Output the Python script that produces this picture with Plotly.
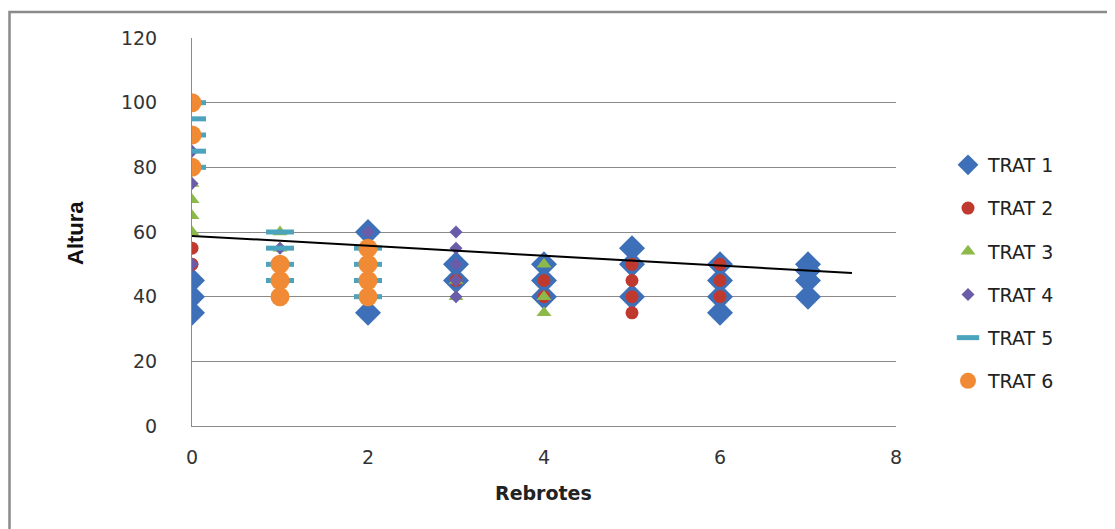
import plotly.graph_objects as go

# ---- data ----
t1_x = [0, 0, 0, 2, 2, 3, 3, 4, 4, 4, 5, 5, 5, 6, 6, 6, 6, 7, 7, 7, 7]
t1_y = [35, 40, 45, 60, 35, 50, 45, 50, 45, 40, 55, 50, 40, 50, 45, 40, 35, 50, 48, 45, 40]

t2_x = [0, 0, 3, 4, 4, 5, 5, 5, 5, 6, 6, 6]
t2_y = [55, 50, 45, 45, 40, 50, 45, 40, 35, 50, 45, 40]

t3_x = [0, 0, 0, 0, 1, 1, 3, 3, 4, 4, 4]
t3_y = [60, 65, 70, 75, 60, 55, 45, 40, 50, 40, 35]

t4_x = [0, 0, 0, 1, 1, 2, 3, 3, 3, 3, 3]
t4_y = [75, 85, 50, 55, 45, 60, 60, 55, 50, 45, 40]

t5_x = [0, 0, 0, 0, 0, 1, 1, 1, 1, 2, 2, 2, 2]
t5_y = [80, 85, 90, 95, 100, 60, 55, 50, 45, 55, 50, 45, 40]

t6_x = [0, 0, 0, 1, 1, 1, 2, 2, 2, 2]
t6_y = [80, 90, 100, 50, 45, 40, 55, 50, 45, 40]

trend_x = [0, 7.5]
trend_y = [58.8, 47.3]

names = ["TRAT 1", "TRAT 2", "TRAT 3", "TRAT 4", "TRAT 5", "TRAT 6"]

fig = go.Figure()

fig.add_trace(go.Scatter(x=t1_x, y=t1_y, mode="markers", name=names[0], legendgroup="g1",
                         marker=dict(symbol="diamond", size=20, color="#3D70B8")))
fig.add_trace(go.Scatter(x=t2_x, y=t2_y, mode="markers", name=names[1], legendgroup="g2",
                         marker=dict(symbol="circle", size=13, color="#C0392F")))
fig.add_trace(go.Scatter(x=t3_x, y=t3_y, mode="markers", name=names[2], legendgroup="g3",
                         marker=dict(symbol="triangle-up", size=13, color="#8DB84A")))
fig.add_trace(go.Scatter(x=t4_x, y=t4_y, mode="markers", name=names[3], legendgroup="g4",
                         marker=dict(symbol="diamond", size=10, color="#6A5CA8")))
fig.add_trace(go.Scatter(x=t5_x, y=t5_y, mode="markers", name=names[4], legendgroup="g5",
                         marker=dict(symbol="line-ew", size=20, color="#4BA3BE",
                                     line=dict(color="#4BA3BE", width=5))))
fig.add_trace(go.Scatter(x=t6_x, y=t6_y, mode="markers", name=names[5], legendgroup="g6",
                         marker=dict(symbol="circle", size=19, color="#F08A35")))
fig.add_trace(go.Scatter(x=trend_x, y=trend_y, mode="lines", showlegend=False,
                         line=dict(color="black", width=2), hoverinfo="skip"))

OFF = 8  # page body margin
W, H = 1115 - OFF, 529 - OFF
L, T = 192 - OFF, 38 - OFF
R = W - (896 - OFF)
B = H - (426 - OFF)
pw, ph = W - L - R, H - T - B

def px_x(p):
    return (p - OFF - L) / pw

def px_y(p):
    return (H - B - (p - OFF)) / ph

fig.update_layout(
    width=W, height=H,
    margin=dict(l=L, r=R, t=T, b=B, autoexpand=False),
    paper_bgcolor="white", plot_bgcolor="white",
    font=dict(family="DejaVu Sans", size=18, color="#333333"),
    xaxis=dict(range=[0, 8], tickvals=[0, 2, 4, 6, 8], showgrid=False, zeroline=False,
               showline=True, linecolor="#8a8a8a", linewidth=1, ticks="", automargin=False,
               ticklabelstandoff=14, tickfont=dict(size=19, color="#333333")),
    yaxis=dict(range=[0, 120], tickvals=[0, 20, 40, 60, 80, 100, 120], showgrid=True,
               gridcolor="#8a8a8a", gridwidth=1, zeroline=False, automargin=False,
               showline=True, linecolor="#8a8a8a", linewidth=1, ticks="",
               ticklabelstandoff=30, tickfont=dict(size=19, color="#333333")),
    legend=dict(x=px_x(948), y=px_y(146), xanchor="left", yanchor="top",
                font=dict(family="DejaVu Sans", size=19, color="#222222"),
                traceorder="grouped", tracegroupgap=15.5, bgcolor="rgba(0,0,0,0)"),
    showlegend=True,
    annotations=[
        dict(text="<b>Altura</b>", x=px_x(75), y=px_y(233), xref="paper", yref="paper",
             xanchor="center", yanchor="middle", textangle=-90, showarrow=False,
             font=dict(family="Liberation Sans Narrow, Arial Narrow, sans-serif", size=22, color="#111111")),
        dict(text="<b>Rebrotes</b>", x=px_x(543), y=px_y(493), xref="paper", yref="paper",
             xanchor="center", yanchor="middle", showarrow=False,
             font=dict(family="DejaVu Sans", size=19, color="#222222")),
    ],
    shapes=[
        dict(type="rect", xref="paper", yref="paper",
             x0=px_x(9.5), x1=px_x(1130), y0=px_y(12), y1=px_y(545),
             line=dict(color="#8a8a8a", width=2.5), layer="below"),
    ],
)

fig.write_html("out.html")
